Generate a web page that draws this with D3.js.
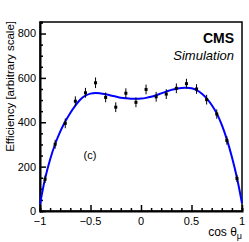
<!DOCTYPE html>
<html>
<head>
<meta charset="utf-8">
<script src="https://cdn.jsdelivr.net/npm/d3@7"></script>
<style>
body { margin: 0; background: #fff; }
text { font-family: "Liberation Sans", Arial, sans-serif; }
</style>
</head>
<body>
<div id="chart"></div>
<script>
// measured points (bin centres) with vertical errors
var binX = [-0.95, -0.85, -0.75, -0.65, -0.55, -0.45, -0.35, -0.25, -0.15, -0.05,
            0.05, 0.15, 0.25, 0.35, 0.45, 0.55, 0.65, 0.75, 0.85, 0.95];
var binY = [143, 301, 395, 495, 533, 578, 512, 468, 531, 490,
            548, 515, 527, 553, 574, 550, 502, 437, 318, 147];
var binErr = [17, 20, 22, 22, 22, 24, 22, 22, 22, 22,
              22, 22, 22, 22, 22, 22, 22, 21, 19, 16];

// fitted curve
var fitX = [-1, -0.95, -0.9, -0.85, -0.8, -0.75, -0.7, -0.65, -0.6, -0.55, -0.5,
            -0.45, -0.4, -0.35, -0.3, -0.25, -0.2, -0.15, -0.1, -0.05, 0,
            0.05, 0.1, 0.15, 0.2, 0.25, 0.3, 0.35, 0.4, 0.45, 0.5,
            0.55, 0.6, 0.65, 0.7, 0.75, 0.8, 0.85, 0.9, 0.95, 1];
var fitY = [30, 145, 232, 302, 358, 403, 442, 475, 503, 520, 529,
            532, 530, 526, 521, 516, 511, 508, 506, 506, 507,
            510, 515, 522, 530, 538, 546, 551, 555, 556, 553,
            545, 530, 508, 478, 440, 388, 323, 243, 150, 35];

var xTicks = [-1, -0.5, 0, 0.5, 1];
var yTicks = [0, 200, 400, 600, 800];

var width = 249, height = 242;
var margin = {top: 22, right: 7, bottom: 31, left: 40};

var svg = d3.select("#chart").append("svg")
    .attr("width", width).attr("height", height);

var x = d3.scaleLinear().domain([-1, 1]).range([margin.left, width - margin.right]);
var y = d3.scaleLinear().domain([0, 852]).range([height - margin.bottom, margin.top]);

// frame
svg.append("rect")
    .attr("x", x(-1)).attr("y", y(852))
    .attr("width", x(1) - x(-1)).attr("height", y(0) - y(852))
    .attr("fill", "none").attr("stroke", "#000").attr("stroke-width", 1.5);

// y axis, ticks inside
var yAxis = svg.append("g").attr("transform", "translate(" + x(-1) + ",0)");
yAxis.call(d3.axisRight(y).tickValues(d3.range(0, 851, 50)).tickSize(3).tickFormat(""));
yAxis.selectAll(".tick line").filter(function (d) { return d % 200 === 0; }).attr("x2", 6);
yAxis.select(".domain").attr("stroke-width", 2);
yAxis.selectAll(".tick line").attr("stroke-width", 1.5);

svg.append("g").selectAll("text").data(yTicks).enter().append("text")
    .attr("x", x(-1) - 4).attr("y", function (d) { return y(d); })
    .attr("dy", "0.36em").attr("text-anchor", "end")
    .attr("font-size", 11).attr("fill", "#000")
    .text(function (d) { return d; });

// x axis, ticks inside
var xAxis = svg.append("g").attr("transform", "translate(0," + y(0) + ")");
xAxis.call(d3.axisTop(x).tickValues(d3.range(-10, 11).map(function (i) { return i / 10; })).tickSize(3).tickFormat(""));
xAxis.selectAll(".tick line").filter(function (d) { return Math.abs(d * 2 - Math.round(d * 2)) < 1e-6; }).attr("y2", -6);
xAxis.select(".domain").attr("stroke-width", 2);
xAxis.selectAll(".tick line").attr("stroke-width", 1.5);

svg.append("g").selectAll("text").data(xTicks).enter().append("text")
    .attr("x", function (d) { return x(d); }).attr("y", y(0) + 14)
    .attr("text-anchor", "middle").attr("font-size", 11).attr("fill", "#000")
    .text(function (d) { return d < 0 ? "\u2212" + Math.abs(d) : d; });

// axis titles
var xt = svg.append("text")
    .attr("x", x(1)).attr("y", 236)
    .attr("text-anchor", "end").attr("font-size", 12).attr("fill", "#000");
xt.append("tspan").text("cos \u03b8");
xt.append("tspan").attr("font-size", 9).attr("dy", 3).text("\u03bc");

svg.append("text")
    .attr("transform", "translate(14," + (y(852) - 1) + ") rotate(-90)")
    .attr("text-anchor", "end").attr("font-size", 11.5).attr("fill", "#000")
    .text("Efficiency [arbitrary scale]");

// fit curve
var line = d3.line()
    .x(function (d, i) { return x(fitX[i]); })
    .y(function (d) { return y(d); })
    .curve(d3.curveCatmullRom);
svg.append("path")
    .datum(fitY)
    .attr("d", line)
    .attr("fill", "none").attr("stroke", "#0000ff").attr("stroke-width", 2);

// points
var pts = svg.append("g");
binX.forEach(function (bx, i) {
    pts.append("line")
        .attr("x1", x(bx)).attr("x2", x(bx))
        .attr("y1", y(binY[i] - binErr[i])).attr("y2", y(binY[i] + binErr[i]))
        .attr("stroke", "#000").attr("stroke-width", 1);
    pts.append("rect")
        .attr("x", x(bx) - 1.5).attr("y", y(binY[i]) - 1.5)
        .attr("width", 3).attr("height", 3).attr("fill", "#000");
});

// labels
svg.append("text").attr("x", 234).attr("y", 43)
    .attr("text-anchor", "end").attr("font-size", 14).attr("font-weight", "bold")
    .attr("fill", "#000").text("CMS");
svg.append("text").attr("x", 234).attr("y", 60)
    .attr("text-anchor", "end").attr("font-size", 13).attr("font-style", "italic")
    .attr("fill", "#000").text("Simulation");
svg.append("text").attr("x", 90).attr("y", 159)
    .attr("text-anchor", "middle").attr("font-size", 11)
    .attr("fill", "#000").text("(c)");
</script>
</body>
</html>
